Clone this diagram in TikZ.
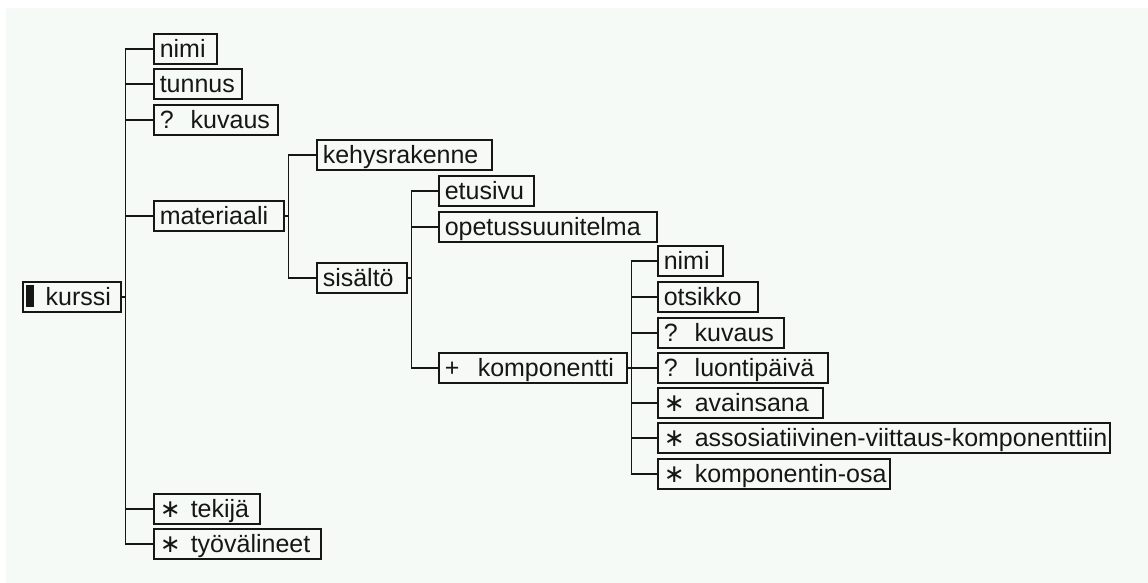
\documentclass[tikz,border=0pt]{standalone}
\usepackage{fontspec}
\setmainfont{Liberation Sans}
\newfontfamily\symfont{DejaVu Sans}
% fixed-width, left-aligned label inside a box
\newcommand\lbl[2]{\makebox[#1pt][l]{#2}}
% occurrence marker (?, +, *) before an element name
\newcommand\pre[2][31]{\makebox[#1pt][l]{#2}}
\newcommand\many{{\symfont ∗}}
\definecolor{panel}{HTML}{F5FAF7}
\definecolor{ink}{HTML}{161616}
\begin{document}
\begin{tikzpicture}[x=1pt,y=-1pt,
  box/.style={draw=ink, line width=1.5pt, anchor=west, inner xsep=6pt,
    inner ysep=3.5pt, text height=20pt, text depth=3pt, text=ink,
    font=\fontsize{25}{30}\selectfont},
  link/.style={draw=ink, line width=1.6pt}]
\useasboundingbox (0,0) rectangle (1148,583);
\fill[white] (0,0) rectangle (1148,583);
\fill[panel] (6,8) rectangle (1148,583);

% root
\node[box] (kurssi) at (22,297)
  {\lbl{86}{\hspace*{-3pt}\rule[-1.5pt]{8pt}{22pt}\hspace*{12pt}kurssi}};

% children of kurssi
\node[box] (nimi)       at (153,49)  {\lbl{51}{nimi}};
\node[box] (tunnus)     at (153,84)  {\lbl{76}{tunnus}};
\node[box] (kuvaus)     at (153,120) {\lbl{112}{\pre{?}kuvaus}};
\node[box] (materiaali) at (153,216) {\lbl{118}{materiaali}};
\node[box] (tekija)     at (153,509) {\lbl{94}{\pre{\many}tekijä}};
\node[box] (tyo)        at (153,544) {\lbl{155}{\pre{\many}työvälineet}};

% children of materiaali
\node[box] (kehys)   at (316,155) {\lbl{163}{kehysrakenne}};
\node[box] (sisalto) at (316,278) {\lbl{78}{sisältö}};

% children of sisältö
\node[box] (etusivu)     at (438,191) {\lbl{83}{etusivu}};
\node[box] (opetus)      at (438,227) {\lbl{206}{opetussuunitelma}};
\node[box] (komponentti) at (438,368) {\lbl{176}{\pre[33]{+}komponentti}};

% children of komponentti
\node[box] (knimi)   at (657,261) {\lbl{53}{nimi}};
\node[box] (otsikko) at (657,297) {\lbl{88}{otsikko}};
\node[box] (kkuvaus) at (657,333) {\lbl{114}{\pre{?}kuvaus}};
\node[box] (luonti)  at (657,368) {\lbl{158}{\pre{?}luontipäivä}};
\node[box] (avain)   at (657,403) {\lbl{153}{\pre{\many}avainsana}};
\node[box] (assoc)   at (657,438) {\lbl{440}{\pre{\many}assosiatiivinen-viittaus-komponenttiin}};
\node[box] (osa)     at (657,474) {\lbl{220}{\pre{\many}komponentin-osa}};

% tree connectors: short stub out of the parent, then down/up to each child
\foreach \c in {nimi,tunnus,kuvaus,materiaali,tekija,tyo}
  \draw[link] (kurssi.east) -- ++(4,0) |- (\c.west);
\foreach \c in {kehys,sisalto}
  \draw[link] (materiaali.east) -- ++(4,0) |- (\c.west);
\foreach \c in {etusivu,opetus,komponentti}
  \draw[link] (sisalto.east) -- ++(4,0) |- (\c.west);
\foreach \c in {knimi,otsikko,kkuvaus,luonti,avain,assoc,osa}
  \draw[link] (komponentti.east) -- ++(4,0) |- (\c.west);
\end{tikzpicture}
\end{document}
